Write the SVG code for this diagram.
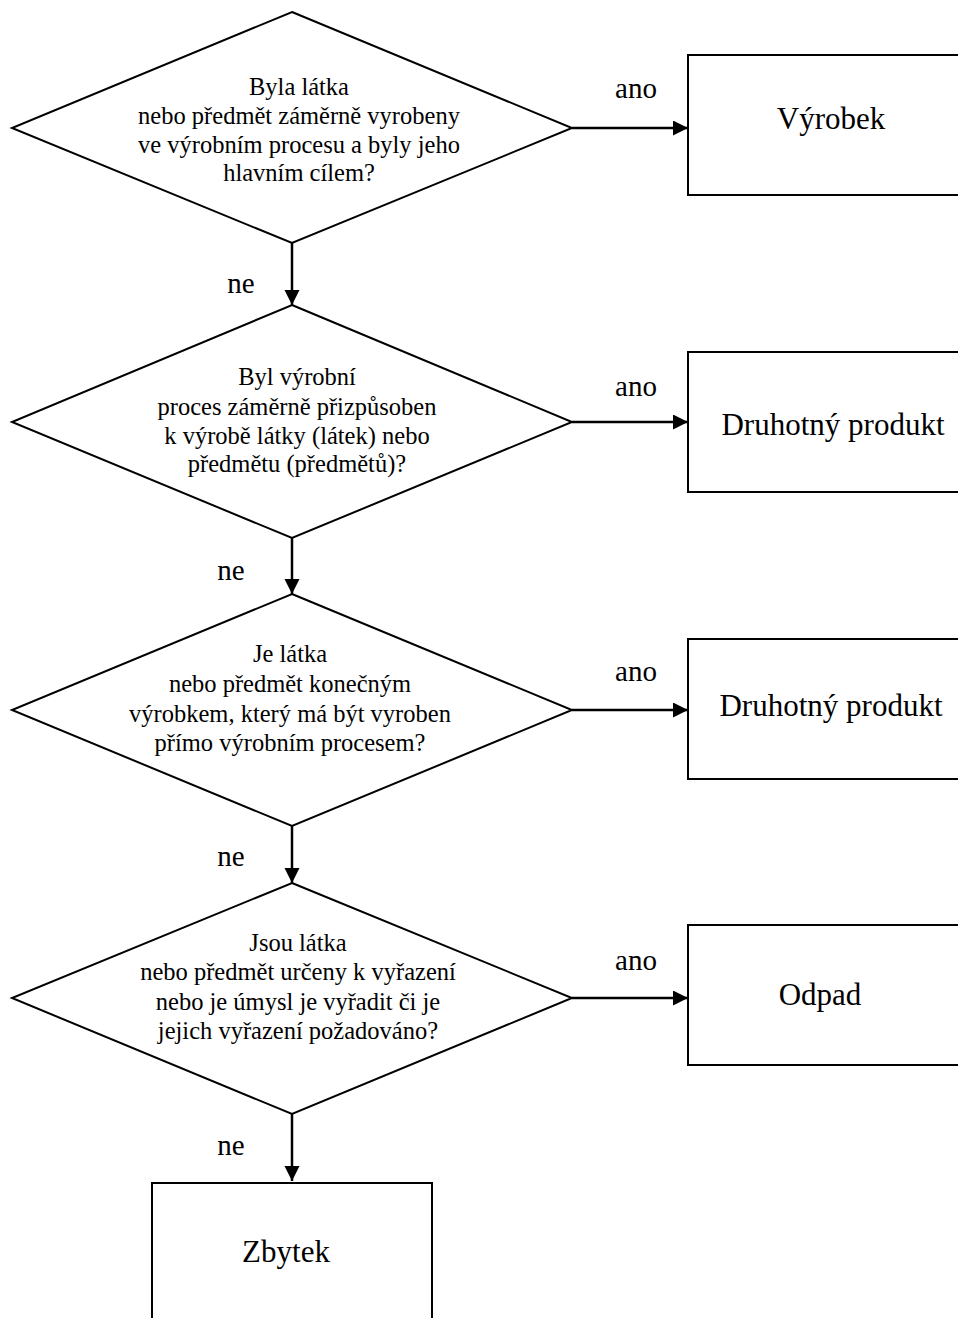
<svg xmlns="http://www.w3.org/2000/svg" width="958" height="1318" viewBox="0 0 958 1318">
<style>
.shape{fill:#fff;stroke:#000;stroke-width:2}
.conn{fill:none;stroke:#000;stroke-width:2.5}
.q{font-family:"Liberation Serif","Times New Roman",serif;font-size:24.5px;text-anchor:middle;fill:#000}
.b{font-family:"Liberation Serif","Times New Roman",serif;font-size:31px;text-anchor:middle;fill:#000}
.lbl{font-family:"Liberation Serif","Times New Roman",serif;font-size:29px;text-anchor:middle;fill:#000}
</style>
<defs>
<marker id="ah" markerUnits="userSpaceOnUse" markerWidth="16" markerHeight="16" refX="15" refY="7.5" orient="auto">
<path d="M0,0 L15,7.5 L0,15 Z" fill="#000"/>
</marker>
</defs>
<rect width="958" height="1318" fill="#fff"/>

<g id="connectors">
<line class="conn" x1="572" y1="128" x2="688" y2="128" marker-end="url(#ah)"/>
<line class="conn" x1="572" y1="422" x2="688" y2="422" marker-end="url(#ah)"/>
<line class="conn" x1="572" y1="710" x2="688" y2="710" marker-end="url(#ah)"/>
<line class="conn" x1="572" y1="998" x2="688" y2="998" marker-end="url(#ah)"/>
<line class="conn" x1="292" y1="243" x2="292" y2="305" marker-end="url(#ah)"/>
<line class="conn" x1="292" y1="538" x2="292" y2="594" marker-end="url(#ah)"/>
<line class="conn" x1="292" y1="826" x2="292" y2="883" marker-end="url(#ah)"/>
<line class="conn" x1="292" y1="1114" x2="292" y2="1181" marker-end="url(#ah)"/>
<text class="lbl" x="636" y="98">ano</text>
<text class="lbl" x="636" y="396">ano</text>
<text class="lbl" x="636" y="681">ano</text>
<text class="lbl" x="636" y="970">ano</text>
<text class="lbl" x="241" y="293">ne</text>
<text class="lbl" x="231" y="580">ne</text>
<text class="lbl" x="231" y="866">ne</text>
<text class="lbl" x="231" y="1155">ne</text>
</g>

<g id="d1">
<polygon class="shape" points="292,12 572,128 292,243 12,128"/>
<text class="q" x="299" y="95">Byla látka</text>
<text class="q" x="299" y="124">nebo předmět záměrně vyrobeny</text>
<text class="q" x="299" y="153">ve výrobním procesu a byly jeho</text>
<text class="q" x="299" y="181">hlavním cílem?</text>
</g>
<g id="d2">
<polygon class="shape" points="292,305 572,422 292,538 12,422"/>
<text class="q" x="297" y="385">Byl výrobní</text>
<text class="q" x="297" y="415">proces záměrně přizpůsoben</text>
<text class="q" x="297" y="444">k výrobě látky (látek) nebo</text>
<text class="q" x="297" y="472">předmětu (předmětů)?</text>
</g>
<g id="d3">
<polygon class="shape" points="292,594 572,710 292,826 12,710"/>
<text class="q" x="290" y="662">Je látka</text>
<text class="q" x="290" y="692">nebo předmět konečným</text>
<text class="q" x="290" y="722">výrobkem, který má být vyroben</text>
<text class="q" x="290" y="751">přímo výrobním procesem?</text>
</g>
<g id="d4">
<polygon class="shape" points="292,883 572,998 292,1114 12,998"/>
<text class="q" x="298" y="951">Jsou látka</text>
<text class="q" x="298" y="980">nebo předmět určeny k vyřazení</text>
<text class="q" x="298" y="1010">nebo je úmysl je vyřadit či je</text>
<text class="q" x="298" y="1039">jejich vyřazení požadováno?</text>
</g>

<g id="b1">
<rect class="shape" x="688" y="55" width="290" height="140"/>
<text class="b" x="831" y="129">Výrobek</text>
</g>
<g id="b2">
<rect class="shape" x="688" y="352" width="290" height="140"/>
<text class="b" x="833" y="435">Druhotný produkt</text>
</g>
<g id="b3">
<rect class="shape" x="688" y="639" width="290" height="140"/>
<text class="b" x="831" y="716">Druhotný produkt</text>
</g>
<g id="b4">
<rect class="shape" x="688" y="925" width="290" height="140"/>
<text class="b" x="820" y="1005">Odpad</text>
</g>
<g id="b5">
<rect class="shape" x="152" y="1183" width="280" height="160"/>
<text class="b" x="286" y="1262">Zbytek</text>
</g>
</svg>
